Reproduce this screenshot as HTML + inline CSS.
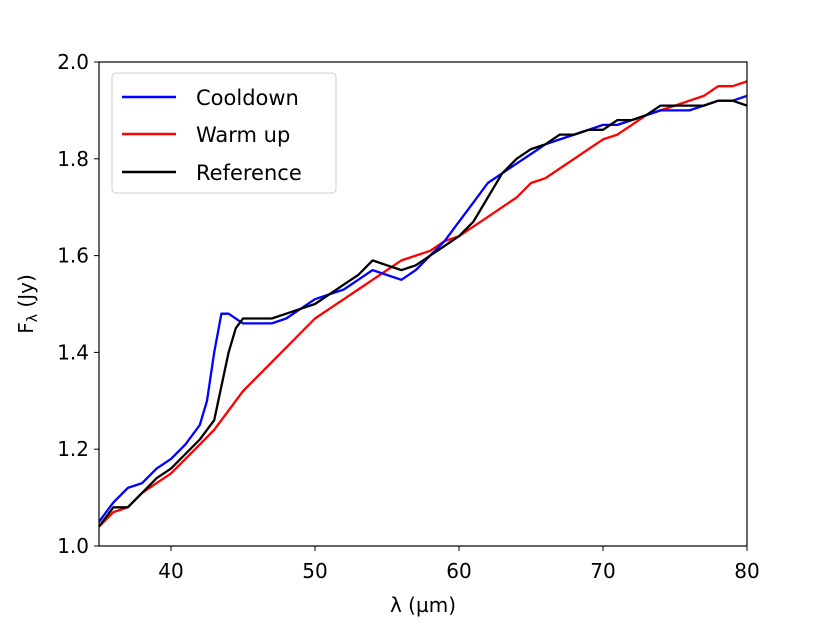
<!DOCTYPE html>
<html><head><meta charset="utf-8"><style>
body{margin:0;background:#fff;font-family:"Liberation Sans","DejaVu Sans",sans-serif}
</style></head><body>
<svg width="830" height="623" xmlns="http://www.w3.org/2000/svg" font-family="DejaVu Sans, Liberation Sans, sans-serif">
<g id="marks"></g>
<rect x="99" y="62" width="648" height="484" fill="none" stroke="#000" stroke-width="1.2"/>
<g id="ticks"></g>
<text x="423" y="612" font-size="20" text-anchor="middle">λ (µm)</text>
<text transform="translate(33,304) rotate(-90)" font-size="20" text-anchor="middle">F<tspan font-size="14" dy="4">λ</tspan><tspan dy="-4"> (Jy)</tspan></text>
<g>
<rect x="112" y="73" width="224" height="120" rx="4" fill="#fff" stroke="#ccc"/>
<line x1="122" y1="97" x2="176" y2="97" stroke="#0000ff" stroke-width="2.5"/>
<text x="196" y="105" font-size="21">Cooldown</text>
<line x1="122" y1="134" x2="176" y2="134" stroke="#ff0000" stroke-width="2.5"/>
<text x="196" y="142" font-size="21">Warm up</text>
<line x1="122" y1="172" x2="176" y2="172" stroke="#000" stroke-width="2.5"/>
<text x="196" y="180" font-size="21">Reference</text>
</g>
</svg>
<script>
const xTicks=[40,50,60,70,80];
const yTicks=[1.0,1.2,1.4,1.6,1.8,2.0];
const yTickLabels=["1.0","1.2","1.4","1.6","1.8","2.0"];
const coolX=[35,36,37,38,39,40,41,42,42.5,43,43.5,44,45,46,47,48,49,50,51,52,53,54,55,56,57,58,59,60,61,62,63,64,65,66,67,68,69,70,71,72,73,74,75,76,77,78,79,80];
const coolY=[1.05,1.09,1.12,1.13,1.16,1.18,1.21,1.25,1.30,1.40,1.48,1.48,1.46,1.46,1.46,1.47,1.49,1.51,1.52,1.53,1.55,1.57,1.56,1.55,1.57,1.60,1.63,1.67,1.71,1.75,1.77,1.79,1.81,1.83,1.84,1.85,1.86,1.87,1.87,1.88,1.89,1.90,1.90,1.90,1.91,1.92,1.92,1.93];
const refX=[35,36,37,38,39,40,41,42,43,43.5,44,44.5,45,46,47,48,49,50,51,52,53,54,55,56,57,58,59,60,61,62,63,64,65,66,67,68,69,70,71,72,73,74,75,76,77,78,79,80];
const refY=[1.04,1.08,1.08,1.11,1.14,1.16,1.19,1.22,1.26,1.33,1.40,1.45,1.47,1.47,1.47,1.48,1.49,1.50,1.52,1.54,1.56,1.59,1.58,1.57,1.58,1.60,1.62,1.64,1.67,1.72,1.77,1.80,1.82,1.83,1.85,1.85,1.86,1.86,1.88,1.88,1.89,1.91,1.91,1.91,1.91,1.92,1.92,1.91];
const warmX=[35,36,37,38,39,40,41,42,43,44,45,46,47,48,49,50,51,52,53,54,55,56,57,58,59,60,61,62,63,64,65,66,67,68,69,70,71,72,73,74,75,76,77,78,79,80];
const warmY=[1.04,1.07,1.08,1.11,1.13,1.15,1.18,1.21,1.24,1.28,1.32,1.35,1.38,1.41,1.44,1.47,1.49,1.51,1.53,1.55,1.57,1.59,1.60,1.61,1.63,1.64,1.66,1.68,1.70,1.72,1.75,1.76,1.78,1.80,1.82,1.84,1.85,1.87,1.89,1.90,1.91,1.92,1.93,1.95,1.95,1.96];
const NS="http://www.w3.org/2000/svg";
function sx(v){return 99+(v-35)/45*648;}
function sy(v){return 546-(v-1)/1*484;}
const marks=document.getElementById('marks');
function series(xs,ys,color,name){
  const p=document.createElementNS(NS,'polyline');
  p.setAttribute('points',xs.map((x,i)=>sx(x).toFixed(1)+','+sy(ys[i]).toFixed(1)).join(' '));
  p.setAttribute('fill','none');p.setAttribute('stroke',color);p.setAttribute('stroke-width','2.3');
  p.setAttribute('stroke-linejoin','round');
  
  
  marks.appendChild(p);
}
series(warmX,warmY,'#ff0000','warmup-line');
series(coolX,coolY,'#0000ff','cooldown-line');
series(refX,refY,'#000000','reference-line');
const tg=document.getElementById('ticks');
xTicks.forEach(t=>{
  const l=document.createElementNS(NS,'line');
  l.setAttribute('x1',sx(t));l.setAttribute('x2',sx(t));l.setAttribute('y1',546);l.setAttribute('y2',551);l.setAttribute('stroke','#000');
  
  
  tg.appendChild(l);
  const tx=document.createElementNS(NS,'text');
  tx.setAttribute('x',sx(t));tx.setAttribute('y',578);tx.setAttribute('font-size','20');tx.setAttribute('text-anchor','middle');
  tx.textContent=String(t);
  
  
  tg.appendChild(tx);
});
yTicks.forEach((t,i)=>{
  const l=document.createElementNS(NS,'line');
  l.setAttribute('x1',94);l.setAttribute('x2',99);l.setAttribute('y1',sy(t));l.setAttribute('y2',sy(t));l.setAttribute('stroke','#000');
  
  
  tg.appendChild(l);
  const tx=document.createElementNS(NS,'text');
  tx.setAttribute('x',89);tx.setAttribute('y',sy(t)+7);tx.setAttribute('font-size','20');tx.setAttribute('text-anchor','end');
  tx.textContent=yTickLabels[i];
  
  
  tg.appendChild(tx);
});
</script>
</body></html>
